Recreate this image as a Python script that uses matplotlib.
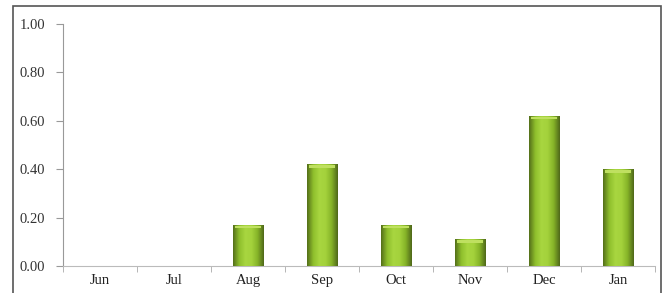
import numpy as np
import matplotlib.pyplot as plt
from matplotlib.patches import Rectangle
from matplotlib.colors import LinearSegmentedColormap

# Data
months = ['Jun', 'Jul', 'Aug', 'Sep', 'Oct', 'Nov', 'Dec', 'Jan']
values = [0.0, 0.0, 0.17, 0.42, 0.17, 0.11, 0.62, 0.40]
yticks = [0.0, 0.2, 0.4, 0.6, 0.8, 1.0]

plt.rcParams['font.family'] = ['Liberation Serif', 'DejaVu Serif']

fig = plt.figure(figsize=(6.62, 2.93), dpi=100)
fig.patch.set_facecolor('white')

# outer frame (bottom edge is cut off in the reference)
fig.patches.append(Rectangle((13 / 662, -0.05), 648 / 662, 1.05 - 6 / 293,
                             transform=fig.transFigure, fill=False,
                             edgecolor='#555555', linewidth=1.2))

ax = fig.add_axes([63 / 662, 1 - 266 / 293, 592 / 662, 242 / 293])
x = np.arange(len(months))
width = 0.41

# bevelled green bars: horizontal gradient clipped to each bar
cmap = LinearSegmentedColormap.from_list(
    'bev', ['#55711a', '#8fbf2c', '#a8d640', '#a4d23c', '#86b428', '#50691a'])
grad = np.linspace(0, 1, 64).reshape(1, -1)
bars = ax.bar(x, values, width, color='#9acc36', edgecolor='none', zorder=2)
for b in bars:
    h = b.get_height()
    if h <= 0:
        continue
    x0 = b.get_x()
    im = ax.imshow(grad, cmap=cmap, aspect='auto', zorder=3,
                   extent=[x0, x0 + b.get_width(), 0, h])
    im.set_clip_path(b)
    ax.add_patch(Rectangle((x0 + 0.03, h - 0.014), b.get_width() - 0.06, 0.01,
                           facecolor='#bfe060', edgecolor='none', zorder=4))

ax.set_xlim(-0.5, len(months) - 0.5)
ax.set_ylim(0, 1.0)
ax.set_yticks(yticks)
ax.set_yticklabels(['%.2f' % v for v in yticks])
ax.set_xticks(x)
ax.set_xticklabels(months)
ax.set_xticks(np.arange(-0.5, len(months)), minor=True)
ax.tick_params(axis='x', which='major', length=0, pad=6, labelsize=10.5,
               labelcolor='#222222')
ax.tick_params(axis='x', which='minor', length=4, color='#aaaaaa')
ax.tick_params(axis='y', length=5, color='#999999', labelsize=10.5,
               labelcolor='#333333', pad=8)

for s in ['top', 'right']:
    ax.spines[s].set_visible(False)
ax.spines['left'].set_color('#999999')
ax.spines['bottom'].set_color('#bbbbbb')

fig.savefig('out.png', dpi=100)
